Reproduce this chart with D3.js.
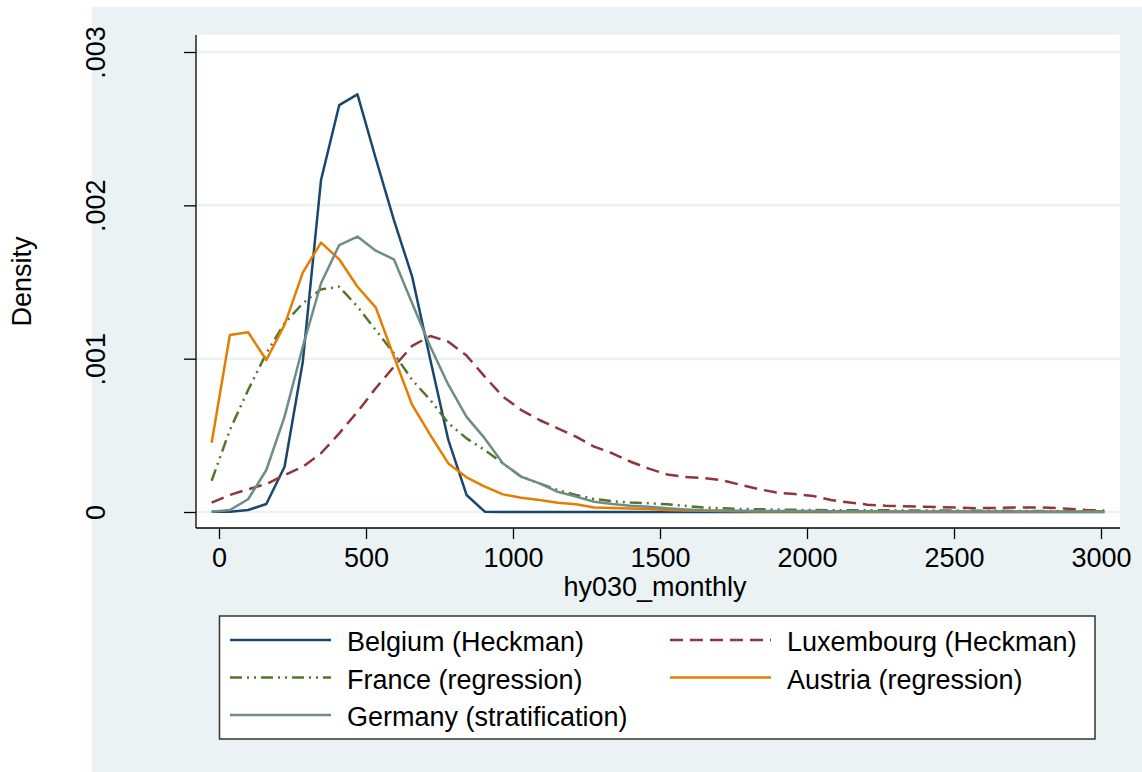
<!DOCTYPE html>
<html>
<head>
<meta charset="utf-8">
<script src="https://d3js.org/d3.v7.min.js"></script>
<style>
  body { margin: 0; background: #fff; }
  text { font-family: "Liberation Sans", Arial, Helvetica, sans-serif; fill: #000; }
</style>
</head>
<body>
<script>
// evaluation points of the kernel densities (hy030_monthly)
var xGrid = [-25, 37, 99, 161, 223, 285, 347, 409, 471, 533,
             595, 657, 719, 780, 842, 904, 966, 1028, 1090, 1152,
             1214, 1276, 1338, 1400, 1462, 1524, 1586, 1648, 1710, 1772,
             1834, 1896, 1958, 2020, 2082, 2144, 2206, 2268, 2330, 2392,
             2453, 2515, 2577, 2639, 2701, 2763, 2825, 2887, 2949, 3011];

// densities
var belgium = [0.000002, 0.000002, 0.000013, 0.000052, 0.000295, 0.00098, 0.002165, 0.002654, 0.002724, 0.002307,
               0.001904, 0.001535, 0.000991, 0.00047, 0.000111, 0.000002, 0, 0, 0, 0,
               0, 0, 0, 0, 0, 0, 0, 0, 0, 0,
               0, 0, 0, 0, 0, 0, 0, 0, 0, 0,
               0, 0, 0, 0, 0, 0, 0, 0, 0, 0];

var luxembourg = [0.000061, 0.000111, 0.000148, 0.000183, 0.000241, 0.000295, 0.000383, 0.000513, 0.000654, 0.000807,
                  0.000948, 0.001083, 0.001148, 0.001111, 0.00102, 0.000883, 0.000752, 0.000665, 0.0006, 0.000546,
                  0.000491, 0.000426, 0.000383, 0.000328, 0.000283, 0.000245, 0.000228, 0.000222, 0.000208, 0.000178,
                  0.00015, 0.000127, 0.000117, 0.000105, 0.000078, 0.000062, 0.000048, 0.000041, 0.000037, 0.000035,
                  0.000032, 0.000028, 0.000025, 0.000026, 0.00003, 0.00003, 0.000028, 0.000022, 0.000013, 0.000009];

var france = [0.000204, 0.000535, 0.000796, 0.001035, 0.001231, 0.001361, 0.001452, 0.001469, 0.001339, 0.001187,
              0.001035, 0.000861, 0.00073, 0.00058, 0.00048, 0.000404, 0.000317, 0.00023, 0.000187, 0.000143,
              0.000111, 0.000085, 0.00007, 0.000062, 0.000057, 0.00005, 0.00004, 0.00003, 0.000024, 0.00002,
              0.000018, 0.000016, 0.000014, 0.000013, 0.000012, 0.000012, 0.000011, 0.000011, 0.00001, 0.00001,
              0.000009, 0.000009, 0.000008, 0.000008, 0.000007, 0.000007, 0.000006, 0.000006, 0.000005, 0.000005];

var austria = [0.000452, 0.001154, 0.001172, 0.000991, 0.00122, 0.001561, 0.001757, 0.001648, 0.001469, 0.001335,
               0.001013, 0.000698, 0.000502, 0.000317, 0.000226, 0.000165, 0.000115, 0.000093, 0.000078, 0.000061,
               0.00005, 0.00003, 0.000026, 0.000023, 0.00002, 0.000013, 0.00001, 0.000008, 0.000006, 0.000005,
               0.000004, 0.000004, 0.000003, 0.000003, 0.000003, 0.000002, 0.000002, 0.000002, 0.000002, 0.000002,
               0.000001, 0.000001, 0.000001, 0.000001, 0.000001, 0.000001, 0.000001, 0.000001, 0.000001, 0.000001];

var germany = [0.000002, 0.000013, 0.000083, 0.000274, 0.000622, 0.001078, 0.001492, 0.001741, 0.001796, 0.001704,
               0.001648, 0.001361, 0.001078, 0.00083, 0.00062, 0.00048, 0.000317, 0.00023, 0.000187, 0.000132,
               0.0001, 0.000067, 0.000052, 0.000041, 0.000035, 0.000024, 0.000017, 0.000012, 0.00001, 0.000008,
               0.000007, 0.000007, 0.000006, 0.000006, 0.000005, 0.000005, 0.000005, 0.000004, 0.000004, 0.000004,
               0.000004, 0.000003, 0.000003, 0.000003, 0.000003, 0.000003, 0.000002, 0.000002, 0.000002, 0.000002];

var seriesNames = ["Belgium (Heckman)", "Luxembourg (Heckman)", "France (regression)",
                   "Austria (regression)", "Germany (stratification)"];

var xTicks = [0, 500, 1000, 1500, 2000, 2500, 3000];
var yTicks = [0, 0.001, 0.002, 0.003];
var yTickLabels = ["0", ".001", ".002", ".003"];

// line styles (stata s2color)
var seriesStyle = [
  {color: "#1a476f", dash: null},
  {color: "#90353b", dash: "13,7"},
  {color: "#55752f", dash: "12,5,2,5,2,5"},
  {color: "#e37e00", dash: null},
  {color: "#6e8e84", dash: null}
];

var seriesData = [belgium, luxembourg, france, austria, germany];

// set the dimensions and margins of the graph
var margin = {top: 35, right: 22, bottom: 244, left: 196},
    width = 1142 - margin.left - margin.right,
    height = 772 - margin.top - margin.bottom;

// set the ranges
var x = d3.scaleLinear().domain([0, 3000]).range([23, 905]);
var y = d3.scaleLinear().domain([0, 0.003]).range([477, 17]);

var valueline = d3.line()
    .x(function(d) { return x(d[0]); })
    .y(function(d) { return y(d[1]); });

var root = d3.select("body").append("svg")
    .attr("width", 1142)
    .attr("height", 772);

// graph region
root.append("rect")
    .attr("x", 92).attr("y", 7)
    .attr("width", 1142 - 92).attr("height", 772 - 7)
    .attr("fill", "#eaf2f3");

var svg = root.append("g")
    .attr("transform", "translate(" + margin.left + "," + margin.top + ")");

// plot region
svg.append("rect")
    .attr("width", width)
    .attr("height", height)
    .attr("fill", "#fff");

// grid lines
svg.selectAll(".grid")
    .data(yTicks)
  .enter().append("line")
    .attr("class", "grid")
    .attr("x1", 0).attr("x2", width)
    .attr("y1", function(d) { return y(d); })
    .attr("y2", function(d) { return y(d); })
    .attr("stroke", "#eaf2f3")
    .attr("stroke-width", 2.5);

// the density lines
seriesData.forEach(function(vals, i) {
  var pts = xGrid.map(function(v, j) { return [v, vals[j]]; });
  svg.append("path")
    .datum(pts)
    .attr("fill", "none")
    .attr("stroke", seriesStyle[i].color)
    .attr("stroke-width", 2.5)
    .attr("stroke-linejoin", "round")
    .attr("stroke-dasharray", seriesStyle[i].dash)
    .attr("d", valueline);
});

// X axis
var xAxis = svg.append("g")
    .attr("transform", "translate(0," + height + ")")
    .call(d3.axisBottom(x).tickValues(xTicks).tickSize(11).tickPadding(9)
      .tickFormat(d3.format("d")).tickSizeOuter(0));
xAxis.select(".domain").remove();
xAxis.attr("font-family", null);
xAxis.selectAll("line").attr("stroke", "#000").attr("stroke-width", 1.3);
xAxis.selectAll("text").attr("font-size", 27).attr("fill", "#000");

// Y axis
var yAxis = svg.append("g")
    .call(d3.axisLeft(y).tickValues(yTicks).tickSize(12)
      .tickFormat(function(d, i) { return yTickLabels[i]; }).tickSizeOuter(0));
yAxis.select(".domain").remove();
yAxis.attr("font-family", null);
yAxis.selectAll("line").attr("stroke", "#000").attr("stroke-width", 1.3);
yAxis.selectAll("text")
    .attr("font-size", 27)
    .attr("fill", "#000")
    .attr("x", 0).attr("y", -91).attr("dy", null)
    .attr("text-anchor", "middle")
    .attr("transform", "rotate(-90)");

// axis lines
svg.append("line")
    .attr("x1", 0).attr("x2", 0).attr("y1", 0).attr("y2", height)
    .attr("stroke", "#000").attr("stroke-width", 1.3);
svg.append("line")
    .attr("x1", 0).attr("x2", width).attr("y1", height).attr("y2", height)
    .attr("stroke", "#000").attr("stroke-width", 1.3);

// axis titles
svg.append("text")
    .attr("x", width / 2 - 3)
    .attr("y", 596 - margin.top)
    .attr("text-anchor", "middle")
    .attr("font-size", 27)
    .text("hy030_monthly");

root.append("text")
    .attr("transform", "translate(31," + (margin.top + height / 2) + ") rotate(-90)")
    .attr("text-anchor", "middle")
    .attr("font-size", 27)
    .text("Density");

// legend
var legend = root.append("g").attr("transform", "translate(219.5,616)");
legend.append("rect")
    .attr("width", 875.5).attr("height", 123)
    .attr("fill", "#fff")
    .attr("stroke", "#333").attr("stroke-width", 1.5);

var item = legend.selectAll(".item")
    .data(seriesNames)
  .enter().append("g")
    .attr("class", "item")
    .attr("transform", function(d, i) {
      return "translate(" + (i % 2 === 0 ? 10.5 : 450.5) + "," + (24 + Math.floor(i / 2) * 37.5) + ")";
    });

item.append("line")
    .attr("x1", 0).attr("x2", 101)
    .attr("stroke", function(d, i) { return seriesStyle[i].color; })
    .attr("stroke-width", 2.5)
    .attr("stroke-dasharray", function(d, i) { return seriesStyle[i].dash; });

item.append("text")
    .attr("x", 117)
    .attr("dy", 11)
    .attr("font-size", 27)
    .text(function(d) { return d; });
</script>
</body>
</html>
